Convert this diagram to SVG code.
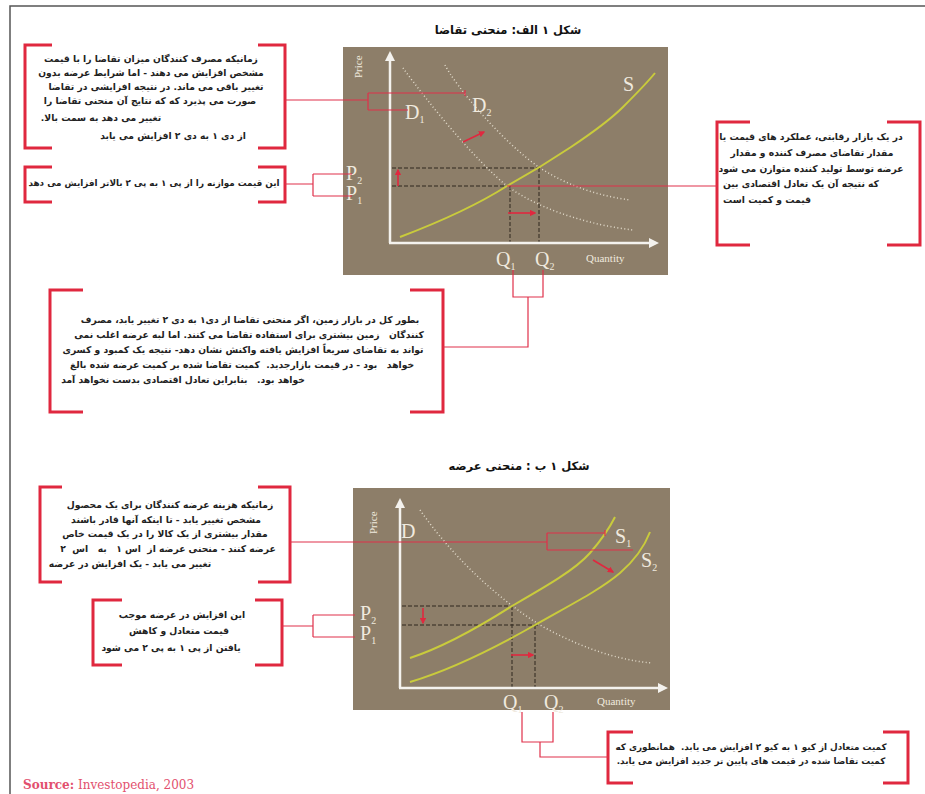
<svg xmlns="http://www.w3.org/2000/svg" width="925" height="794" viewBox="0 0 925 794">
<defs>
<style>
.bg{fill:#8d7e69}
.ax{stroke:#f4f2ee;stroke-width:2.5;fill:none}
.axh{fill:#f4f2ee}
.sup{stroke:#c9cb3c;stroke-width:2;fill:none}
.dem{stroke:#e2dbcb;stroke-width:1.5;stroke-dasharray:1 2.5;fill:none}
.dash{stroke:#2e261f;stroke-width:1;stroke-dasharray:4 2;fill:none}
.br{stroke:#e0283f;stroke-width:3;fill:none}
.cn{stroke:#e0304a;stroke-width:1.2;fill:none}
.ra{stroke:#e0283f;stroke-width:1.6;fill:none;marker-end:url(#ah)}
.fa{font-family:"DejaVu Sans",sans-serif;font-size:9.2px;font-weight:bold;fill:#222;text-anchor:middle;direction:rtl;unicode-bidi:embed;white-space:pre}
.ti{font-family:"DejaVu Sans",sans-serif;font-size:11.5px;font-weight:bold;fill:#111;text-anchor:middle;direction:rtl;unicode-bidi:embed}
.lb{font-family:"Liberation Serif","DejaVu Serif",serif;fill:#f0eadf}
.big{font-size:20px}
.sub{font-size:10px}
.sm{font-size:11px}
</style>
<marker id="ah" viewBox="0 0 10 10" refX="8" refY="5" markerWidth="4" markerHeight="4" orient="auto"><path d="M0,0 L10,5 L0,10 z" fill="#e0283f"/></marker>
</defs>
<rect width="925" height="794" fill="#ffffff"/>
<path d="M10,794 V6 H925" stroke="#555" stroke-width="1.5" fill="none"/>

<text class="ti" x="508" y="34">شکل ۱ الف: منحنی تقاضا</text>
<text class="ti" x="519" y="470">شکل ۱ ب : منحنی عرضه</text>

<g id="chart1">
<rect class="bg" x="343" y="47" width="325" height="228"/>
<path class="dem" d="M403,68 C430,105 475,160 507,186 C540,210 590,225 633,230"/>
<path class="dem" d="M445,65 C455,85 500,140 540,168 C570,187 600,196 630,200"/>
<path class="dash" d="M392,168 H540 M392,186 H507 M510,186 V242 M539,168 V242"/>
<path class="sup" d="M400,237 C450,218 485,200 507,186 C545,165 600,130 623,107 C635,95 647,83 655,73"/>
<path class="ax" d="M390,243 V58 M389,243 H652"/>
<polygon class="axh" points="390,51 385,61 395,61"/>
<polygon class="axh" points="659,243 649,238 649,248"/>
<path class="ra" d="M398,186 V170"/>
<path class="ra" d="M463,142 L484,132"/>
<path class="ra" d="M508,213 H535"/>
<text class="lb sm" transform="translate(362,78) rotate(-90)">Price</text>
<text class="lb big" x="623" y="91">S</text>
<text class="lb big" x="472" y="112">D<tspan class="sub" dy="4">2</tspan></text>
<text class="lb big" x="405" y="119">D<tspan class="sub" dy="4">1</tspan></text>
<text class="lb big" x="346" y="180">P<tspan class="sub" dy="4">2</tspan></text>
<text class="lb big" x="346" y="200">P<tspan class="sub" dy="4">1</tspan></text>
<text class="lb big" x="496" y="266">Q<tspan class="sub" dy="4">1</tspan></text>
<text class="lb big" x="535" y="266">Q<tspan class="sub" dy="4">2</tspan></text>
<text class="lb sm" x="586" y="262">Quantity</text>
</g>

<g id="chart2">
<rect class="bg" x="353" y="488" width="317" height="222"/>
<path class="dem" d="M420,510 C455,560 500,600 540,625 C575,645 615,660 652,663"/>
<path class="dash" d="M402,606 H510 M402,625 H540 M512,606 V687 M535,625 V687"/>
<path class="sup" d="M410,658 C450,645 490,620 512,606 C545,587 575,570 590,553 C603,538 610,527 615,517"/>
<path class="sup" d="M410,682 C450,670 500,645 535,625 C570,605 600,590 620,573 C635,560 645,545 650,532"/>
<path class="ax" d="M400,688 V505 M399,688 H661"/>
<polygon class="axh" points="400,498 395,508 405,508"/>
<polygon class="axh" points="668,688 658,683 658,693"/>
<path class="ra" d="M423,608 V623"/>
<path class="ra" d="M511,655 H533"/>
<path class="ra" d="M593,560 L613,572"/>
<text class="lb sm" transform="translate(377,534) rotate(-90)">Price</text>
<text class="lb big" x="401" y="538">D</text>
<text class="lb big" x="615" y="543">S<tspan class="sub" dy="4">1</tspan></text>
<text class="lb big" x="641" y="567">S<tspan class="sub" dy="4">2</tspan></text>
<text class="lb big" x="360" y="620">P<tspan class="sub" dy="4">2</tspan></text>
<text class="lb big" x="360" y="640">P<tspan class="sub" dy="4">1</tspan></text>
<text class="lb big" x="503" y="709">Q<tspan class="sub" dy="4">1</tspan></text>
<text class="lb big" x="544" y="709">Q<tspan class="sub" dy="4">2</tspan></text>
<text class="lb sm" x="597" y="705">Quantity</text>
</g>

<g id="box-demand-shift">
<path class="br" d="M52,45 H25 V148 H52 M258,45 H285 V148 H258"/>
<text class="fa" x="151" y="62">زمانیکه مصرف کنندگان میزان تقاضا را با قیمت</text>
<text class="fa" x="151" y="76">مشخص افزایش می دهند - اما شرایط عرضه بدون</text>
<text class="fa" x="156" y="90">تغییر باقی می ماند. در نتیجه افزایشی در تقاضا</text>
<text class="fa" x="150" y="104">صورت می پذیرد که که نتایج آن منحنی تقاضا را</text>
<text class="fa" x="101" y="121">تغییر می دهد به سمت بالا.</text>
<text class="fa" x="173" y="139">از دی ۱ به دی ۲ افزایش می یابد</text>
</g>

<g id="box-price-rise">
<path class="br" d="M52,167 H25 V202 H52 M258,167 H285 V202 H258"/>
<text class="fa" x="154" y="186" style="font-size:8.8px">این قیمت موازنه را از پی ۱ به پی ۲ بالاتر افزایش می دهد</text>
</g>

<g id="box-equilibrium">
<path class="br" d="M750,122 H717 V245 H750 M887,122 H920 V245 H887"/>
<text class="fa" x="811" y="140">در یک بازار رقابتی، عملکرد های قیمت یا</text>
<text class="fa" x="812" y="156">مقدار تقاضای مصرف کننده و مقدار</text>
<text class="fa" x="811" y="172">عرضه توسط تولید کننده متوازن می شود</text>
<text class="fa" x="801" y="187">که نتیجه آن یک تعادل اقتصادی بین</text>
<text class="fa" x="767" y="203">قیمت و کمیت است</text>
</g>

<g id="box-land-market">
<path class="br" d="M83,290 H50 V412 H83 M410,290 H443 V412 H410"/>
<text class="fa" x="250" y="323">بطور کل در بازار زمین، اگر منحنی تقاضا از دی۱ به دی ۲ تغییر یابد، مصرف</text>
<text class="fa" x="249" y="338">کنندگان   زمین بیشتری برای استفاده تقاضا می کنند. اما لبه عرضه اغلب نمی</text>
<text class="fa" x="243" y="353">تواند به تقاضای سریعاً افزایش یافته واکنش نشان دهد- نتیجه یک کمبود و کسری</text>
<text class="fa" x="242" y="368">خواهد   بود - در قیمت بازارجدید.  کمیت تقاضا شده بر کمیت عرضه شده بالغ</text>
<text class="fa" x="183" y="383">خواهد بود.   بنابراین تعادل اقتصادی بدست نخواهد آمد</text>
</g>

<g id="box-supply-shift">
<path class="br" d="M62,487 H40 V582 H62 M258,487 H290 V582 H258"/>
<text class="fa" x="170" y="508">زمانیکه هزینه عرضه کنندگان برای یک محصول</text>
<text class="fa" x="166" y="523">مشخص تغییر یابد - تا اینکه آنها قادر باشند</text>
<text class="fa" x="165" y="537">مقدار بیشتری از یک کالا را در یک قیمت خاص</text>
<text class="fa" x="168" y="552">عرضه کنند - منحنی عرضه از  اس ۱   به   اس  ۲</text>
<text class="fa" x="130" y="567">تغییر می یابد - یک افزایش در عرضه</text>
</g>

<g id="box-price-fall">
<path class="br" d="M122,600 H93 V665 H122 M255,600 H282 V665 H255"/>
<text class="fa" x="182" y="618">این افزایش در عرضه موجب</text>
<text class="fa" x="179" y="634">قیمت متعادل و کاهش</text>
<text class="fa" x="171" y="651">یافتن از پی ۱ به پی ۲ می شود</text>
</g>

<g id="box-quantity-rise">
<path class="br" d="M633,732 H608 V783 H633 M883,732 H908 V783 H883"/>
<text class="fa" x="751" y="750" style="font-size:8.8px">کمیت متعادل از کیو ۱ به کیو ۲ افزایش می یابد.  همانطوری که</text>
<text class="fa" x="751" y="764" style="font-size:8.8px">کمیت تقاضا شده در قیمت های پایین تر جدید افزایش می یابد.</text>
</g>

<g id="connectors">
<path class="cn" d="M285,100 H368 M368,93 V110 M368,93 H465 M465,90 V96 M368,110 H408"/>
<path class="cn" d="M285,184 H313 M313,174 V196 M313,174 H352 M313,196 H352"/>
<path class="cn" d="M507,186 H717"/>
<path class="cn" d="M513,270 V297 H543 V270 M528,297 V347 H443"/>
<path class="cn" d="M290,542 H547 M547,533 V550 M547,533 H605 M605,530 V536 M547,550 H633"/>
<path class="cn" d="M282,626 H313 M313,615 V637 M313,615 H355 M313,637 H355"/>
<path class="cn" d="M522,712 V742 H553 V712 M540,742 V757 H608"/>
</g>

<text x="23" y="789" font-family="'DejaVu Serif',serif" font-size="12" fill="#e2506e"><tspan font-weight="bold">Source:</tspan> Investopedia, 2003</text>
</svg>
